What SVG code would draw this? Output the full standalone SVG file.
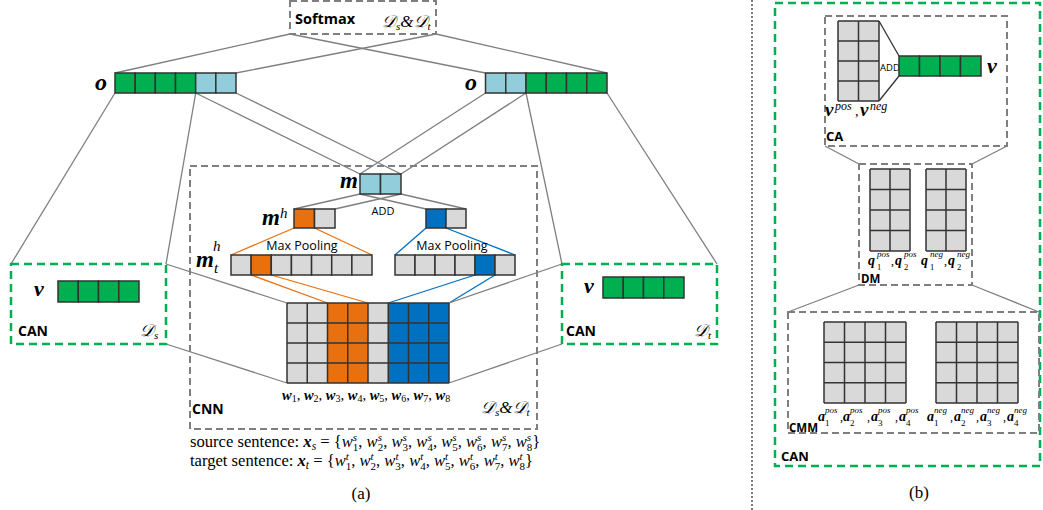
<svg xmlns="http://www.w3.org/2000/svg" width="1043" height="510" viewBox="0 0 1043 510">
<style>
.ln{stroke:#7f7f7f;stroke-width:1.3;fill:none}
.lo{stroke:#E8700E;stroke-width:1.3;fill:none}
.lb{stroke:#0070C0;stroke-width:1.3;fill:none}
.box{fill:none;stroke:#7f7f7f;stroke-width:2;stroke-dasharray:7 4}
.gbox{fill:none;stroke:#00B050;stroke-width:2.5;stroke-dasharray:8 5}
.c{stroke:#333;stroke-width:1.5}
.g{fill:#D9D9D9}
.gr{fill:#00B050}
.lbl{fill:#92CDDC}
.or{fill:#E8700E}
.bl{fill:#0070C0}
.grid{stroke:#333;stroke-width:1.5;fill:none}
.sb{font-family:"Open Sans","Liberation Sans",sans-serif;font-weight:bold;fill:#000}
.sr{font-family:"Open Sans","Liberation Sans",sans-serif;fill:#000}
.mb{font-family:"Liberation Serif","DejaVu Serif",serif;font-weight:bold;font-style:italic;fill:#000}
.mi{font-family:"Liberation Serif","DejaVu Serif",serif;font-style:italic;fill:#000}
.rm{font-family:"Liberation Serif","DejaVu Serif",serif;fill:#000}
</style>

<g id="connectors">
  <line class="ln" x1="290" y1="34" x2="115" y2="73"/>
  <line class="ln" x1="436" y1="34" x2="236" y2="73"/>
  <line class="ln" x1="290" y1="34" x2="485.5" y2="73"/>
  <line class="ln" x1="436" y1="34" x2="607" y2="73"/>
  <line class="ln" x1="115" y1="93" x2="11" y2="264"/>
  <line class="ln" x1="195.7" y1="93" x2="166" y2="264"/>
  <line class="ln" x1="526" y1="93" x2="562" y2="264"/>
  <line class="ln" x1="607" y1="93" x2="717" y2="264"/>
  <line class="ln" x1="195.7" y1="93" x2="360" y2="174"/>
  <line class="ln" x1="236" y1="93" x2="401" y2="174"/>
  <line class="ln" x1="485.5" y1="93" x2="360" y2="174"/>
  <line class="ln" x1="526" y1="93" x2="401" y2="174"/>
  <line class="ln" x1="360" y1="194" x2="294" y2="209"/>
  <line class="ln" x1="401" y1="194" x2="335" y2="209"/>
  <line class="ln" x1="360" y1="194" x2="426" y2="209"/>
  <line class="ln" x1="401" y1="194" x2="466" y2="209"/>
  <line class="lo" x1="294" y1="228" x2="231" y2="255"/>
  <line class="lo" x1="314.5" y1="228" x2="372" y2="255"/>
  <line class="lb" x1="426" y1="228" x2="395" y2="255"/>
  <line class="lb" x1="446" y1="228" x2="515" y2="255"/>
  <line class="lo" x1="251.1" y1="275" x2="327.5" y2="303"/>
  <line class="lo" x1="271.3" y1="275" x2="368" y2="303"/>
  <line class="lb" x1="475" y1="275" x2="388.3" y2="303"/>
  <line class="lb" x1="495" y1="275" x2="449" y2="303"/>
  <line class="ln" x1="166" y1="264" x2="287" y2="303"/>
  <line class="ln" x1="166" y1="344" x2="287" y2="383"/>
  <line class="ln" x1="562" y1="264" x2="449" y2="303"/>
  <line class="ln" x1="562" y1="344" x2="449" y2="383"/>
  <line class="ln" x1="825" y1="146" x2="859" y2="164"/>
  <line class="ln" x1="1007" y1="146" x2="972" y2="164"/>
  <line class="ln" x1="859" y1="285" x2="788" y2="312"/>
  <line class="ln" x1="972" y1="285" x2="1039" y2="312"/>
  <line stroke="#333" stroke-width="1.3" x1="879" y1="21" x2="899" y2="56"/>
  <line stroke="#333" stroke-width="1.3" x1="879" y1="101" x2="899" y2="76"/>
  <line x1="752" y1="0" x2="752" y2="510" stroke="#222" stroke-width="1.2" stroke-dasharray="2 2"/>
</g>

<g id="softmax">
  <rect class="box" x="290" y="1" width="146" height="33"/>
  <text class="sb" x="295" y="24" font-size="14.5">Softmax</text>
  <text class="mi" x="382" y="27" font-size="17">𝒟<tspan font-size="11" dy="3">s</tspan><tspan dy="-3">&amp;𝒟</tspan><tspan font-size="11" dy="3">t</tspan></text>
</g>

<g id="o-left">
  <text class="mb" x="95" y="90" font-size="24">o</text>
  <rect class="c gr" x="115" y="73" width="20.17" height="20"/>
  <rect class="c gr" x="135.17" y="73" width="20.17" height="20"/>
  <rect class="c gr" x="155.33" y="73" width="20.17" height="20"/>
  <rect class="c gr" x="175.5" y="73" width="20.17" height="20"/>
  <rect class="c lbl" x="195.67" y="73" width="20.17" height="20"/>
  <rect class="c lbl" x="215.83" y="73" width="20.17" height="20"/>
</g>

<g id="o-right">
  <text class="mb" x="465" y="90" font-size="24">o</text>
  <rect class="c lbl" x="485.5" y="73" width="20.25" height="20"/>
  <rect class="c lbl" x="505.75" y="73" width="20.25" height="20"/>
  <rect class="c gr" x="526" y="73" width="20.25" height="20"/>
  <rect class="c gr" x="546.25" y="73" width="20.25" height="20"/>
  <rect class="c gr" x="566.5" y="73" width="20.25" height="20"/>
  <rect class="c gr" x="586.75" y="73" width="20.25" height="20"/>
</g>

<g id="cnn">
  <rect class="box" x="190" y="166" width="347" height="263"/>
  <text class="sb" x="192" y="414" font-size="14">CNN</text>
  <text class="mi" x="481" y="413" font-size="17">𝒟<tspan font-size="11" dy="3">s</tspan><tspan dy="-3">&amp;𝒟</tspan><tspan font-size="11" dy="3">t</tspan></text>
</g>

<g id="m">
  <text class="mb" x="340" y="188" font-size="23">m</text>
  <rect class="c lbl" x="360" y="174" width="20.5" height="20"/>
  <rect class="c lbl" x="380.5" y="174" width="20.5" height="20"/>
</g>

<g id="mh-left">
  <text class="mb" x="262" y="225" font-size="23">m</text>
  <text class="mi" x="280" y="218" font-size="15">h</text>
  <rect class="c or" x="294" y="209" width="20.5" height="19"/>
  <rect class="c g" x="314.5" y="209" width="20.5" height="19"/>
</g>

<g id="mh-right">
  <rect class="c bl" x="426" y="209" width="20" height="19"/>
  <rect class="c g" x="446" y="209" width="20" height="19"/>
</g>

<g id="add-label">
  <text class="sr" x="383" y="215" font-size="11" text-anchor="middle">ADD</text>
</g>

<g id="mth-left">
  <text class="mb" x="196" y="267" font-size="23">m</text>
  <text class="mi" x="213" y="251" font-size="15">h</text>
  <text class="mi" x="214" y="273" font-size="15">t</text>
  <text class="sr" x="302" y="250" font-size="12.5" text-anchor="middle">Max Pooling</text>
  <rect class="c g" x="231" y="255" width="20.14" height="20"/>
  <rect class="c or" x="251.14" y="255" width="20.14" height="20"/>
  <rect class="c g" x="271.29" y="255" width="20.14" height="20"/>
  <rect class="c g" x="291.43" y="255" width="20.14" height="20"/>
  <rect class="c g" x="311.57" y="255" width="20.14" height="20"/>
  <rect class="c g" x="331.71" y="255" width="20.14" height="20"/>
  <rect class="c g" x="351.86" y="255" width="20.14" height="20"/>
</g>

<g id="mth-right">
  <text class="sr" x="452" y="250" font-size="12.5" text-anchor="middle">Max Pooling</text>
  <rect class="c g" x="395" y="255" width="20" height="20"/>
  <rect class="c g" x="415" y="255" width="20" height="20"/>
  <rect class="c g" x="435" y="255" width="20" height="20"/>
  <rect class="c g" x="455" y="255" width="20" height="20"/>
  <rect class="c bl" x="475" y="255" width="20" height="20"/>
  <rect class="c g" x="495" y="255" width="20" height="20"/>
</g>

<g id="word-matrix">
  <rect class="g" x="287" y="303" width="162" height="80"/>
  <rect class="or" x="327.5" y="303" width="40.5" height="80"/>
  <rect class="bl" x="388.25" y="303" width="60.75" height="80"/>
  <path class="grid" d="M287 303H449M287 323H449M287 343H449M287 363H449M287 383H449M287 303V383M307.25 303V383M327.5 303V383M347.75 303V383M368 303V383M388.25 303V383M408.5 303V383M428.75 303V383M449 303V383"/>
  <text class="mb" x="282" y="400" font-size="14.5">w<tspan font-size="10" dy="2" font-style="normal" font-weight="normal">1</tspan><tspan dy="-2" font-style="normal" font-weight="normal">, </tspan>w<tspan font-size="10" dy="2" font-style="normal" font-weight="normal">2</tspan><tspan dy="-2" font-style="normal" font-weight="normal">, </tspan>w<tspan font-size="10" dy="2" font-style="normal" font-weight="normal">3</tspan><tspan dy="-2" font-style="normal" font-weight="normal">, </tspan>w<tspan font-size="10" dy="2" font-style="normal" font-weight="normal">4</tspan><tspan dy="-2" font-style="normal" font-weight="normal">, </tspan>w<tspan font-size="10" dy="2" font-style="normal" font-weight="normal">5</tspan><tspan dy="-2" font-style="normal" font-weight="normal">, </tspan>w<tspan font-size="10" dy="2" font-style="normal" font-weight="normal">6</tspan><tspan dy="-2" font-style="normal" font-weight="normal">, </tspan>w<tspan font-size="10" dy="2" font-style="normal" font-weight="normal">7</tspan><tspan dy="-2" font-style="normal" font-weight="normal">, </tspan>w<tspan font-size="10" dy="2" font-style="normal" font-weight="normal">8</tspan></text>
</g>

<g id="can-left">
  <rect class="gbox" x="11" y="264" width="155" height="80"/>
  <text class="mb" x="34" y="296" font-size="22">v</text>
  <rect class="c gr" x="58" y="281" width="20.25" height="21"/>
  <rect class="c gr" x="78.25" y="281" width="20.25" height="21"/>
  <rect class="c gr" x="98.5" y="281" width="20.25" height="21"/>
  <rect class="c gr" x="118.75" y="281" width="20.25" height="21"/>
  <text class="sb" x="18" y="336" font-size="14">CAN</text>
  <text class="mi" x="140" y="336" font-size="17">𝒟<tspan font-size="11" dy="3">s</tspan></text>
</g>

<g id="can-right">
  <rect class="gbox" x="562" y="264" width="155" height="80"/>
  <text class="mb" x="584" y="293" font-size="22">v</text>
  <rect class="c gr" x="603" y="277" width="20.25" height="21"/>
  <rect class="c gr" x="623.25" y="277" width="20.25" height="21"/>
  <rect class="c gr" x="643.5" y="277" width="20.25" height="21"/>
  <rect class="c gr" x="663.75" y="277" width="20.25" height="21"/>
  <text class="sb" x="566" y="336" font-size="14">CAN</text>
  <text class="mi" x="694" y="336" font-size="17">𝒟<tspan font-size="11" dy="3">t</tspan></text>
</g>

<g id="sentences">
  <text class="rm" x="190" y="447" font-size="16.6">source sentence: <tspan class="mb">x</tspan><tspan class="mi" font-size="11.5" dy="3">s</tspan><tspan dy="-3"> = {</tspan><tspan class="mi">w</tspan><tspan class="mi" font-size="11" dy="-6">s</tspan><tspan font-size="11" dx="-4.3" dy="10">1</tspan><tspan dy="-4">, </tspan><tspan class="mi">w</tspan><tspan class="mi" font-size="11" dy="-6">s</tspan><tspan font-size="11" dx="-4.3" dy="10">2</tspan><tspan dy="-4">, </tspan><tspan class="mi">w</tspan><tspan class="mi" font-size="11" dy="-6">s</tspan><tspan font-size="11" dx="-4.3" dy="10">3</tspan><tspan dy="-4">, </tspan><tspan class="mi">w</tspan><tspan class="mi" font-size="11" dy="-6">s</tspan><tspan font-size="11" dx="-4.3" dy="10">4</tspan><tspan dy="-4">, </tspan><tspan class="mi">w</tspan><tspan class="mi" font-size="11" dy="-6">s</tspan><tspan font-size="11" dx="-4.3" dy="10">5</tspan><tspan dy="-4">, </tspan><tspan class="mi">w</tspan><tspan class="mi" font-size="11" dy="-6">s</tspan><tspan font-size="11" dx="-4.3" dy="10">6</tspan><tspan dy="-4">, </tspan><tspan class="mi">w</tspan><tspan class="mi" font-size="11" dy="-6">s</tspan><tspan font-size="11" dx="-4.3" dy="10">7</tspan><tspan dy="-4">, </tspan><tspan class="mi">w</tspan><tspan class="mi" font-size="11" dy="-6">s</tspan><tspan font-size="11" dx="-4.3" dy="10">8</tspan><tspan dy="-4">}</tspan></text>
  <text class="rm" x="190" y="466" font-size="16.6">target sentence: <tspan class="mb">x</tspan><tspan class="mi" font-size="11.5" dy="3">t</tspan><tspan dy="-3"> = {</tspan><tspan class="mi">w</tspan><tspan class="mi" font-size="11" dy="-6">t</tspan><tspan font-size="11" dx="-3.1" dy="10">1</tspan><tspan dy="-4">, </tspan><tspan class="mi">w</tspan><tspan class="mi" font-size="11" dy="-6">t</tspan><tspan font-size="11" dx="-3.1" dy="10">2</tspan><tspan dy="-4">, </tspan><tspan class="mi">w</tspan><tspan class="mi" font-size="11" dy="-6">t</tspan><tspan font-size="11" dx="-3.1" dy="10">3</tspan><tspan dy="-4">, </tspan><tspan class="mi">w</tspan><tspan class="mi" font-size="11" dy="-6">t</tspan><tspan font-size="11" dx="-3.1" dy="10">4</tspan><tspan dy="-4">, </tspan><tspan class="mi">w</tspan><tspan class="mi" font-size="11" dy="-6">t</tspan><tspan font-size="11" dx="-3.1" dy="10">5</tspan><tspan dy="-4">, </tspan><tspan class="mi">w</tspan><tspan class="mi" font-size="11" dy="-6">t</tspan><tspan font-size="11" dx="-3.1" dy="10">6</tspan><tspan dy="-4">, </tspan><tspan class="mi">w</tspan><tspan class="mi" font-size="11" dy="-6">t</tspan><tspan font-size="11" dx="-3.1" dy="10">7</tspan><tspan dy="-4">, </tspan><tspan class="mi">w</tspan><tspan class="mi" font-size="11" dy="-6">t</tspan><tspan font-size="11" dx="-3.1" dy="10">8</tspan><tspan dy="-4">}</tspan></text>
  <text class="rm" x="361" y="499" font-size="17" text-anchor="middle">(a)</text>
</g>

<g id="can-b">
  <rect class="gbox" x="775" y="3" width="265" height="463"/>
  <text class="sb" x="781" y="461" font-size="13">CAN</text>
  <text class="rm" x="919" y="498" font-size="17" text-anchor="middle">(b)</text>
</g>

<g id="ca">
  <rect class="box" x="825" y="16" width="182" height="130"/>
  <rect class="g" x="838" y="21" width="41" height="80"/>
  <path class="grid" d="M838 21H879M838 41H879M838 61H879M838 81H879M838 101H879M838 21V101M858.5 21V101M879 21V101"/>
  <text class="sr" x="880" y="71" font-size="9.5">ADD</text>
  <rect class="c gr" x="899" y="56" width="20.5" height="20"/>
  <rect class="c gr" x="919.5" y="56" width="20.5" height="20"/>
  <rect class="c gr" x="940" y="56" width="20.5" height="20"/>
  <rect class="c gr" x="960.5" y="56" width="20.5" height="20"/>
  <text class="mb" x="987" y="73" font-size="22">v</text>
  <text class="mb" x="825" y="116" font-size="19">v</text>
  <text class="mi" x="835" y="110" font-size="12">pos</text>
  <text class="mi" x="855" y="116" font-size="14">,</text>
  <text class="mb" x="860" y="116" font-size="19">v</text>
  <text class="mi" x="870" y="110" font-size="12">neg</text>
  <text class="sb" x="826" y="141" font-size="13">CA</text>
</g>

<g id="dm">
  <rect class="box" x="859" y="164" width="113" height="121"/>
  <rect class="g" x="870" y="169" width="40" height="82"/>
  <path class="grid" d="M870 169H910M870 189.5H910M870 210H910M870 230.5H910M870 251H910M870 169V251M890 169V251M910 169V251"/>
  <rect class="g" x="926" y="169" width="40" height="82"/>
  <path class="grid" d="M926 169H966M926 189.5H966M926 210H966M926 230.5H966M926 251H966M926 169V251M946 169V251M966 169V251"/>
  <text class="mb" x="868" y="265" font-size="14">q</text>
  <text class="mi" x="877" y="257" font-size="9">pos</text>
  <text class="rm" x="877" y="270" font-size="8.5">1</text>
  <text class="rm" x="891" y="265" font-size="12">,</text>
  <text class="mb" x="895" y="265" font-size="14">q</text>
  <text class="mi" x="904" y="257" font-size="9">pos</text>
  <text class="rm" x="904" y="270" font-size="8.5">2</text>
  <text class="mb" x="921" y="265" font-size="14">q</text>
  <text class="mi" x="930" y="257" font-size="9">neg</text>
  <text class="rm" x="930" y="270" font-size="8.5">1</text>
  <text class="rm" x="944" y="265" font-size="12">,</text>
  <text class="mb" x="948" y="265" font-size="14">q</text>
  <text class="mi" x="957" y="257" font-size="9">neg</text>
  <text class="rm" x="957" y="270" font-size="8.5">2</text>
  <text class="sb" x="861" y="283" font-size="11.5">DM</text>
</g>

<g id="cmm">
  <rect class="box" x="788" y="312" width="251" height="121"/>
  <rect class="g" x="824" y="322" width="82" height="81"/>
  <path class="grid" d="M824 322H906M824 342.25H906M824 362.5H906M824 382.75H906M824 403H906M824 322V403M844.5 322V403M865 322V403M885.5 322V403M906 322V403"/>
  <rect class="g" x="936" y="322" width="82" height="81"/>
  <path class="grid" d="M936 322H1018M936 342.25H1018M936 362.5H1018M936 382.75H1018M936 403H1018M936 322V403M956.5 322V403M977 322V403M997.5 322V403M1018 322V403"/>
  <text class="mb" x="818" y="421" font-size="14">a</text>
  <text class="mi" x="825" y="413" font-size="9">pos</text>
  <text class="rm" x="825" y="426" font-size="9">1</text>
  <text class="rm" x="840" y="421" font-size="12">,</text>
  <text class="mb" x="843" y="421" font-size="14">a</text>
  <text class="mi" x="850" y="413" font-size="9">pos</text>
  <text class="rm" x="850" y="426" font-size="9">2</text>
  <text class="rm" x="867" y="421" font-size="12">,</text>
  <text class="mb" x="871" y="421" font-size="14">a</text>
  <text class="mi" x="878" y="413" font-size="9">pos</text>
  <text class="rm" x="878" y="426" font-size="9">3</text>
  <text class="rm" x="895" y="421" font-size="12">,</text>
  <text class="mb" x="899" y="421" font-size="14">a</text>
  <text class="mi" x="906" y="413" font-size="9">pos</text>
  <text class="rm" x="906" y="426" font-size="9">4</text>
  <text class="mb" x="927" y="421" font-size="14">a</text>
  <text class="mi" x="934" y="413" font-size="9">neg</text>
  <text class="rm" x="934" y="426" font-size="9">1</text>
  <text class="rm" x="950" y="421" font-size="12">,</text>
  <text class="mb" x="954" y="421" font-size="14">a</text>
  <text class="mi" x="961" y="413" font-size="9">neg</text>
  <text class="rm" x="961" y="426" font-size="9">2</text>
  <text class="rm" x="976" y="421" font-size="12">,</text>
  <text class="mb" x="980" y="421" font-size="14">a</text>
  <text class="mi" x="987" y="413" font-size="9">neg</text>
  <text class="rm" x="987" y="426" font-size="9">3</text>
  <text class="rm" x="1003" y="421" font-size="12">,</text>
  <text class="mb" x="1007" y="421" font-size="14">a</text>
  <text class="mi" x="1014" y="413" font-size="9">neg</text>
  <text class="rm" x="1014" y="426" font-size="9">4</text>
  <text class="sb" x="789" y="432" font-size="11.5">CMM</text>
</g>
</svg>
